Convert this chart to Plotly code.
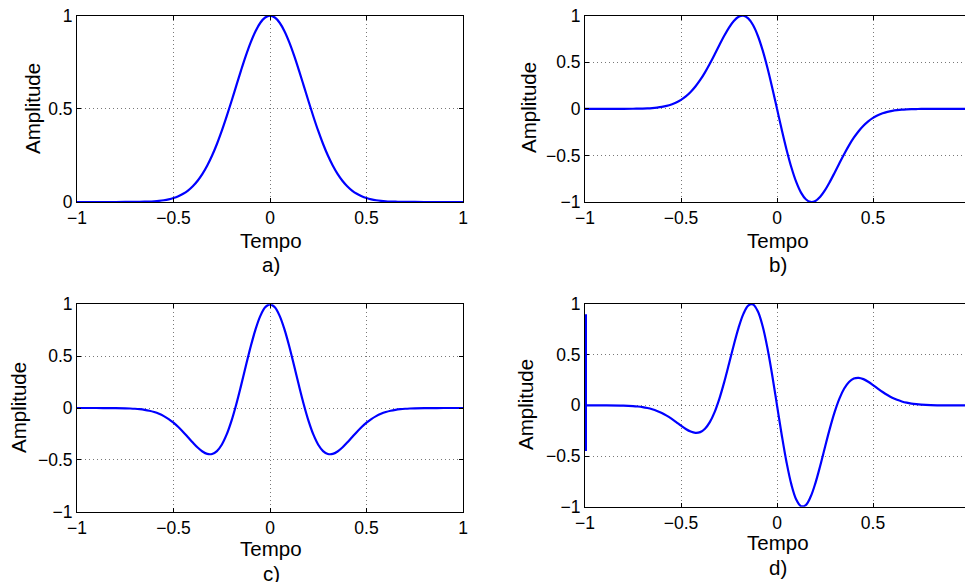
import plotly.graph_objects as go

# Shared time axis for all four panels
tempo = [-1.0, -0.9, -0.8,
         -0.75, -0.725, -0.7, -0.675, -0.65, -0.625, -0.6, -0.575, -0.55, -0.525,
         -0.5, -0.475, -0.45, -0.425, -0.4, -0.375, -0.35, -0.325, -0.3, -0.275,
         -0.25, -0.225, -0.2, -0.175, -0.15, -0.125, -0.1, -0.075, -0.05, -0.025,
         0.0,
         0.025, 0.05, 0.075, 0.1, 0.125, 0.15, 0.175, 0.2, 0.225, 0.25,
         0.275, 0.3, 0.325, 0.35, 0.375, 0.4, 0.425, 0.45, 0.475, 0.5,
         0.525, 0.55, 0.575, 0.6, 0.625, 0.65, 0.675, 0.7, 0.725, 0.75,
         0.8, 0.9, 1.0]

# a) Gaussian pulse
amp_a = [0.0, 0.0, 0.0001,
         0.0002, 0.0003, 0.0005, 0.0009, 0.0015, 0.0024, 0.0039, 0.0061, 0.0094, 0.0142,
         0.0211, 0.0308, 0.0439, 0.0616, 0.0847, 0.1142, 0.1510, 0.1959, 0.2494, 0.3113,
         0.3812, 0.4578, 0.5394, 0.6234, 0.7066, 0.7857, 0.8570, 0.9169, 0.9622, 0.9904,
         1.0,
         0.9904, 0.9622, 0.9169, 0.8570, 0.7857, 0.7066, 0.6234, 0.5394, 0.4578, 0.3812,
         0.3113, 0.2494, 0.1959, 0.1510, 0.1142, 0.0847, 0.0616, 0.0439, 0.0308, 0.0211,
         0.0142, 0.0094, 0.0061, 0.0039, 0.0024, 0.0015, 0.0009, 0.0005, 0.0003, 0.0002,
         0.0001, 0.0, 0.0]

# b) first derivative
amp_b = [0.0, 0.0, 0.0004,
         0.0012, 0.0020, 0.0033, 0.0055, 0.0088, 0.0138, 0.0212, 0.0320, 0.0473, 0.0684,
         0.0967, 0.1338, 0.1811, 0.2398, 0.3101, 0.3921, 0.4840, 0.5833, 0.6852, 0.7841,
         0.8730, 0.9435, 0.9882, 0.9992, 0.9709, 0.8996, 0.7850, 0.6299, 0.4407, 0.2268,
         0.0,
         -0.2268, -0.4407, -0.6299, -0.7850, -0.8996, -0.9709, -0.9992, -0.9882, -0.9435, -0.8730,
         -0.7841, -0.6852, -0.5833, -0.4840, -0.3921, -0.3101, -0.2398, -0.1811, -0.1338, -0.0967,
         -0.0684, -0.0473, -0.0320, -0.0212, -0.0138, -0.0088, -0.0055, -0.0033, -0.0020, -0.0012,
         -0.0004, 0.0, 0.0]

# c) second derivative
amp_c = [0.0, -0.0001, -0.0010,
         -0.0028, -0.0046, -0.0073, -0.0115, -0.0177, -0.0266, -0.0391, -0.0560, -0.0783, -0.1067,
         -0.1418, -0.1834, -0.2307, -0.2818, -0.3334, -0.3813, -0.4199, -0.4428, -0.4433, -0.4153,
         -0.3542, -0.2575, -0.1265, 0.0342, 0.2159, 0.4068, 0.5925, 0.7577, 0.8879, 0.9713,
         1.0,
         0.9713, 0.8879, 0.7577, 0.5925, 0.4068, 0.2159, 0.0342, -0.1265, -0.2575, -0.3542,
         -0.4153, -0.4433, -0.4428, -0.4199, -0.3813, -0.3334, -0.2818, -0.2307, -0.1834, -0.1418,
         -0.1067, -0.0783, -0.0560, -0.0391, -0.0266, -0.0177, -0.0115, -0.0073, -0.0046, -0.0028,
         -0.0010, -0.0001, 0.0]

# d) third derivative
amp_d = [0.0, -0.0003, -0.0028,
         -0.0074, -0.0116, -0.0178, -0.0266, -0.0387, -0.0549, -0.0757, -0.1014, -0.1317, -0.1655,
         -0.2004, -0.2331, -0.2587, -0.2713, -0.2642, -0.2310, -0.1661, -0.0667, 0.0669, 0.2295,
         0.4109, 0.5961, 0.7667, 0.9023, 0.9837, 0.9954, 0.9285, 0.7824, 0.5660, 0.2971,
         0.0,
         -0.2971, -0.5660, -0.7824, -0.9285, -0.9954, -0.9837, -0.9023, -0.7667, -0.5961, -0.4109,
         -0.2295, -0.0669, 0.0667, 0.1661, 0.2310, 0.2642, 0.2713, 0.2587, 0.2331, 0.2004,
         0.1655, 0.1317, 0.1014, 0.0757, 0.0549, 0.0387, 0.0266, 0.0178, 0.0116, 0.0074,
         0.0028, 0.0003, 0.0]

# start-up transient at the left edge of d)
edge_tempo_d = [-1.0, -1.0]
edge_amp_d = [0.9, -0.45]

x_ticks = [-1, -0.5, 0, 0.5, 1]
x_tick_text = ["\u22121", "\u22120.5", "0", "0.5", "1"]
y_ticks_a = [0, 0.5, 1]
y_tick_text_a = ["0", "0.5", "1"]
y_ticks = [-1, -0.5, 0, 0.5, 1]
y_tick_text = ["\u22121", "\u22120.5", "0", "0.5", "1"]
panel_tags = ["a)", "b)", "c)", "d)"]

W, H = 965, 582
FONT = "Liberation Sans, Arial, Helvetica, sans-serif"
TICK_SIZE = 17.5
LABEL_SIZE = 20.5
BLUE = "#0000ff"


def px_x(p):
    return p / W


def px_y(p):
    return 1 - p / H


fig = go.Figure()
panels = [(amp_a, "x", "y"), (amp_b, "x2", "y2"), (amp_c, "x3", "y3"), (amp_d, "x4", "y4")]
for ys, xa, ya in panels:
    fig.add_trace(go.Scatter(x=tempo, y=ys, mode="lines", xaxis=xa, yaxis=ya,
                             line=dict(color=BLUE, width=2.2, shape="spline", smoothing=1.0),
                             hoverinfo="skip"))
fig.add_trace(go.Scatter(x=edge_tempo_d, y=edge_amp_d, mode="lines", xaxis="x4", yaxis="y4",
                         line=dict(color=BLUE, width=4), hoverinfo="skip"))

axis_style = dict(showgrid=True, gridcolor="rgb(120,120,120)", griddash="1px,3px", gridwidth=1,
                  zeroline=False, showline=True, linecolor="black", linewidth=1,
                  ticks="inside", ticklen=4, tickcolor="black", tickwidth=1, automargin=False,
                  tickfont=dict(family=FONT, size=TICK_SIZE, color="black"))

# plot areas in pixels: (left, right, top, bottom)
boxes = [(77, 463, 15.7, 202), (585, 965, 15.7, 202),
         (77, 463, 304.3, 511.7), (585, 965, 304, 506.7)]
x_ranges = [[-1, 1], [-1, 0.979], [-1, 1], [-1, 0.979]]
y_ranges = [[0, 1], [-1, 1], [-1, 1], [-1, 1]]

layout = dict(width=W, height=H, margin=dict(l=0, r=0, t=0, b=0, autoexpand=False),
              paper_bgcolor="white", plot_bgcolor="white", showlegend=False)
for i, (l, r, t, b) in enumerate(boxes):
    sfx = "" if i == 0 else str(i + 1)
    cut_right = i in (1, 3)
    layout["xaxis" + sfx] = dict(axis_style, domain=[px_x(l), min(1.0, px_x(r))],
                                 range=x_ranges[i], tickvals=x_ticks, ticktext=x_tick_text,
                                 mirror="ticks", anchor="y" + sfx)
    if i == 0:
        yt, ytt = y_ticks_a, y_tick_text_a
    else:
        yt, ytt = y_ticks, y_tick_text
    layout["yaxis" + sfx] = dict(axis_style, domain=[px_y(b), px_y(t)], range=y_ranges[i],
                                 tickvals=yt, ticktext=ytt,
                                 mirror=False if cut_right else "ticks",
                                 anchor="x" + sfx)
# the left-edge transient in d) sits on top of the axis line
layout["yaxis4"]["layer"] = "below traces"
fig.update_layout(**layout)

# axis titles and panel tags
label_pos = [
    dict(tempo=(271, 240), tag=(271, 265), amp=(32, 109)),
    dict(tempo=(778, 240), tag=(778, 265), amp=(528, 108)),
    dict(tempo=(271, 548), tag=(271, 573), amp=(18, 408)),
    dict(tempo=(778, 542), tag=(778, 567), amp=(525, 405)),
]
for tag, pos in zip(panel_tags, label_pos):
    fnt = dict(family=FONT, size=LABEL_SIZE, color="black")
    fig.add_annotation(text="Tempo", x=px_x(pos["tempo"][0]), y=px_y(pos["tempo"][1]),
                       xref="paper", yref="paper", showarrow=False, font=fnt,
                       xanchor="center", yanchor="middle")
    fig.add_annotation(text=tag, x=px_x(pos["tag"][0]), y=px_y(pos["tag"][1]),
                       xref="paper", yref="paper", showarrow=False, font=fnt,
                       xanchor="center", yanchor="middle")
    fig.add_annotation(text="Amplitude", x=px_x(pos["amp"][0]), y=px_y(pos["amp"][1]),
                       xref="paper", yref="paper", showarrow=False, font=fnt, textangle=-90,
                       xanchor="center", yanchor="middle")

fig.write_html("out.html")
